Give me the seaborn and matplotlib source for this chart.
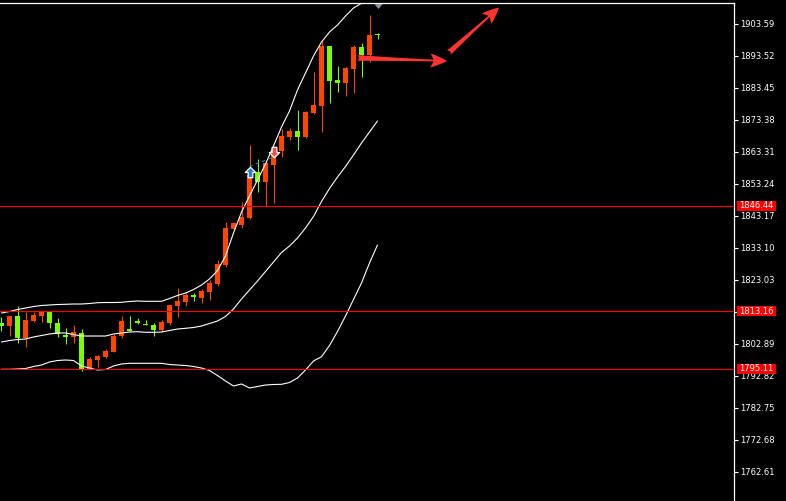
import numpy as np
import pandas as pd
import matplotlib
matplotlib.use("Agg")
import matplotlib.pyplot as plt
import seaborn as sns
from matplotlib.path import Path
from matplotlib.patches import Rectangle

# ---------------- data ----------------
opens = [1809.59, 1808.64, 1811.69, 1804.87, 1810.22, 1811.79, 1813.05, 1809.40,
         1805.72, 1805.18, 1806.44, 1794.92, 1797.85, 1798.80, 1800.46, 1805.50,
         1807.45, 1810.22, 1809.02, 1808.86, 1807.29, 1809.59, 1814.84, 1816.19,
         1818.30, 1817.45, 1819.34, 1821.79, 1827.75, 1839.08, 1840.33, 1842.44,
         1857.11, 1853.96, 1859.21, 1863.71, 1868.12, 1869.92, 1868.12, 1875.67,
         1877.78, 1896.66, 1885.96, 1885.11, 1889.43, 1896.44, 1893.83, 1900.13]
highs = [1811.38, 1811.69, 1814.84, 1813.05, 1813.05, 1813.05, 1813.30, 1811.07,
         1807.92, 1808.86, 1807.61, 1798.70, 1799.42, 1801.31, 1805.94, 1811.79,
         1811.69, 1811.16, 1810.53, 1809.49, 1810.44, 1815.16, 1820.41, 1818.84,
         1818.84, 1820.10, 1823.18, 1829.32, 1841.37, 1841.37, 1847.67, 1865.51,
         1861.10, 1860.25, 1864.47, 1870.50, 1871.00, 1876.52, 1876.21, 1888.58,
         1898.24, 1896.66, 1890.37, 1890.15, 1896.98, 1897.70, 1906.42, 1900.85]
lows = [1806.97, 1805.50, 1803.29, 1802.03, 1809.71, 1809.90, 1808.01, 1805.18,
        1802.88, 1803.20, 1794.48, 1794.80, 1795.65, 1798.48, 1800.40, 1804.87,
        1806.97, 1809.08, 1808.86, 1805.50, 1806.75, 1808.86, 1811.47, 1814.84,
        1816.51, 1815.69, 1816.73, 1821.14, 1827.21, 1838.76, 1839.48, 1842.13,
        1850.81, 1846.31, 1847.16, 1861.64, 1867.08, 1863.93, 1867.62, 1875.17,
        1869.69, 1878.82, 1882.28, 1880.93, 1881.97, 1887.00, 1891.72, 1898.77]
closes = [1808.64, 1811.69, 1804.87, 1810.44, 1812.01, 1813.05, 1809.40, 1806.03,
          1805.18, 1806.66, 1794.92, 1798.16, 1799.11, 1800.68, 1805.50, 1810.12,
          1807.13, 1809.59, 1808.86, 1807.29, 1809.90, 1815.16, 1816.41, 1818.30,
          1817.52, 1819.56, 1821.99, 1828.06, 1839.48, 1841.06, 1842.76, 1856.07,
          1853.96, 1859.75, 1863.93, 1868.34, 1869.76, 1868.12, 1875.99, 1878.10,
          1896.66, 1885.65, 1885.11, 1889.65, 1896.44, 1893.83, 1900.13, 1900.03]

upper_band = [1812.64, 1813.11, 1813.74, 1814.21, 1814.68, 1815.00, 1815.16, 1815.31,
              1815.38, 1815.47, 1815.47, 1815.63, 1815.88, 1815.94, 1815.94, 1816.01,
              1816.26, 1816.42, 1816.32, 1816.32, 1816.32, 1817.20, 1818.15, 1818.93,
              1820.03, 1821.45, 1823.34, 1826.01, 1830.58, 1837.81, 1844.42, 1849.46,
              1854.49, 1859.53, 1865.19, 1871.17, 1876.21, 1882.82, 1888.17, 1893.52,
              1897.92, 1901.07, 1903.27, 1906.10, 1908.62, 1910.10, 1911.30, 1912.08]
middle_band = [1803.51, 1803.99, 1804.30, 1804.46, 1805.09, 1805.56, 1806.03, 1806.35,
               1806.35, 1805.87, 1805.40, 1805.40, 1805.40, 1805.40, 1806.03, 1806.35,
               1806.66, 1806.75, 1806.57, 1806.57, 1806.66, 1807.13, 1807.60, 1807.82,
               1808.08, 1808.55, 1809.33, 1810.12, 1811.54, 1813.90, 1817.04, 1819.88,
               1822.71, 1825.70, 1828.69, 1831.68, 1833.72, 1836.24, 1839.39, 1843.01,
               1847.73, 1851.82, 1855.44, 1858.74, 1862.36, 1866.14, 1869.60, 1873.06]
lower_band = [1794.92, 1794.92, 1795.02, 1795.17, 1795.80, 1796.27, 1797.22, 1797.69,
              1797.85, 1797.69, 1795.96, 1795.33, 1794.70, 1794.86, 1795.96, 1796.59,
              1796.81, 1796.81, 1796.81, 1796.81, 1796.81, 1796.43, 1796.27, 1796.12,
              1795.80, 1795.33, 1794.54, 1792.97, 1791.24, 1789.67, 1790.30, 1789.04,
              1789.51, 1789.98, 1790.14, 1790.20, 1790.77, 1792.18, 1794.70, 1797.53,
              1798.89, 1802.41, 1806.82, 1811.69, 1816.89, 1822.08, 1828.37, 1834.04]

price_lines = [1846.44, 1813.16, 1795.11]
tick_values = [1903.59, 1893.52, 1883.45, 1873.38, 1863.31, 1853.24, 1843.17,
               1833.10, 1823.03, 1812.96, 1802.89, 1792.82, 1782.75, 1772.68, 1762.61]
# the 1812.96 label is fully hidden behind the 1813.16 price box in the original
tick_labels = ["1903.59", "1893.52", "1883.45", "1873.38", "1863.31", "1853.24",
               "1843.17", "1833.10", "1823.03", "", "1802.89", "1792.82",
               "1782.75", "1772.68", "1762.61"]

buy_bar, buy_price = 31, 1857.11
sell_bar, sell_price = 34, 1863.36
trade_line = [(31, 1858.77), (34, 1861.70)]

# hand-drawn arrows (tail -> head)
arrow1 = ((44.5, 1892.89), (55.69, 1891.94))
arrow2 = ((55.94, 1894.62), (62.19, 1908.78))

BULL = "#FF4500"
BEAR = "#7CFC00"

# ---------------- style ----------------
sns.set_theme(style="dark", rc={"axes.facecolor": "black", "figure.facecolor": "black"})
plt.rcParams["font.family"] = ["DejaVu Sans"]

W, H = 786, 501
fig = plt.figure(figsize=(W / 100, H / 100), dpi=100)
fig.patch.set_facecolor("black")
ax = fig.add_axes([0, 0, 734 / W, 1 - 2.5 / H])
ax.set_facecolor("black")

n = len(opens)
idx = np.arange(n)
o = np.array(opens); c = np.array(closes)
hi = np.array(highs); lo = np.array(lows)
bull = c >= o
cols = np.where(bull, BULL, BEAR)

# wicks and bodies
ax.vlines(idx, lo, hi, colors=cols, lw=0.8, zorder=2)
body_bottom = np.minimum(o, c)
body_h = np.maximum(np.abs(c - o), 0.32)
ax.bar(idx, body_h, bottom=body_bottom, width=0.625, color=cols,
       edgecolor="none", linewidth=0, zorder=3)

# Bollinger bands
df = pd.DataFrame({"bar": idx, "upper": upper_band, "middle": middle_band,
                   "lower": lower_band})
for col in ["upper", "middle", "lower"]:
    sns.lineplot(data=df, x="bar", y=col, color="white", lw=0.8, ax=ax,
                 legend=False, zorder=4)

# horizontal price lines
for p in price_lines:
    ax.axhline(p, color="#FF0000", lw=0.8, zorder=5)

# trade arrows
up_arrow = Path([(0, 1), (1, 0), (0.45, 0), (0.45, -1), (-0.45, -1), (-0.45, 0), (-1, 0), (0, 1)],
                [Path.MOVETO] + [Path.LINETO] * 6 + [Path.CLOSEPOLY])
down_arrow = Path([(0, -1), (1, 0), (0.45, 0), (0.45, 1), (-0.45, 1), (-0.45, 0), (-1, 0), (0, -1)],
                  [Path.MOVETO] + [Path.LINETO] * 6 + [Path.CLOSEPOLY])
ax.plot([p[0] for p in trade_line], [p[1] for p in trade_line], color="#1E7FD8",
        lw=0.8, dashes=(3, 3), zorder=6)
ax.plot([buy_bar], [buy_price], marker=up_arrow, ms=7.5, mfc="#1E7FD8", mec="white",
        mew=0.9, zorder=7, ls="none")
ax.plot([sell_bar], [sell_price], marker=down_arrow, ms=7.5, mfc="#F0503C", mec="white",
        mew=0.9, zorder=7, ls="none")

# drawn red arrows
for (tail, head) in [arrow1, arrow2]:
    ax.annotate("", xy=head, xytext=tail,
                arrowprops=dict(arrowstyle="fancy,head_length=0.6,head_width=0.5,tail_width=0.2",
                                color="#FF3333", mutation_scale=20, shrinkA=0, shrinkB=0,
                                lw=0),
                zorder=8, annotation_clip=False)

# chart-shift marker
shift_tri = Path([(-1, 0.6), (1, 0.6), (0, -0.6), (-1, 0.6)],
                 [Path.MOVETO, Path.LINETO, Path.LINETO, Path.CLOSEPOLY])
ax.plot([n - 1], [1909.31], marker=shift_tri, ms=6, mfc="#8C96A0", mec="none",
        ls="none", zorder=9, clip_on=False)

# axes
ax.set_xlim(-0.1875, 91.5625)
ax.set_ylim(1753.48, 1910.35)
ax.set_xticks([])
ax.yaxis.tick_right()
ax.set_yticks(tick_values)
ax.set_yticklabels(tick_labels)
ax.tick_params(axis="y", colors="white", labelcolor="white", length=3, width=0.8,
               labelsize=6, pad=1.5, direction="out")
ax.set_xlabel(""); ax.set_ylabel("")
for side in ["left", "bottom"]:
    ax.spines[side].set_visible(False)
for side in ["top", "right"]:
    ax.spines[side].set_visible(True)
    ax.spines[side].set_color("white")
    ax.spines[side].set_linewidth(0.9)
ax.grid(False)

# red price labels on the axis
ytr = ax.get_yaxis_transform()
for p in price_lines:
    ax.add_patch(Rectangle((737 / 734, p - 1.57), 39 / 734, 3.15, transform=ytr,
                           facecolor="#FF0000", edgecolor="none", clip_on=False, zorder=10))
    ax.text(739.5 / 734, p, f"{p:.2f}", transform=ytr, color="white", fontsize=6,
            ha="left", va="center", clip_on=False, zorder=11)

fig.savefig("out.png", dpi=100, facecolor="black")
